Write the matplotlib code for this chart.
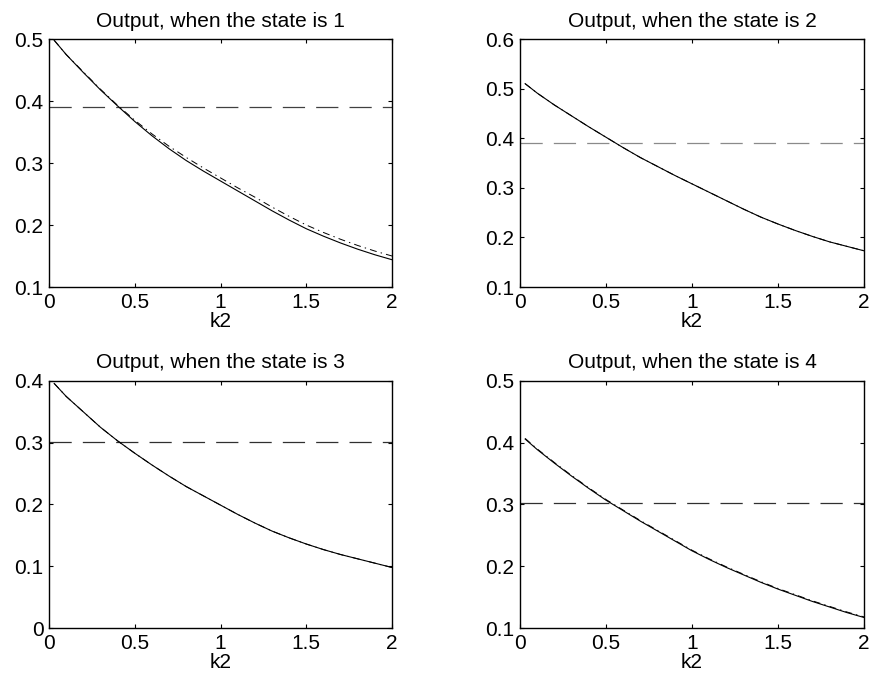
import numpy as np
import matplotlib
matplotlib.use('Agg')
import matplotlib.pyplot as plt

plt.rcParams['font.family'] = ['Liberation Sans', 'DejaVu Sans']
plt.rcParams['lines.scale_dashes'] = False

# k2 grid the curves were read at
k2 = [0.03, 0.1, 0.2, 0.3, 0.4, 0.5, 0.6, 0.7, 0.8, 0.9, 1.0,
      1.1, 1.2, 1.3, 1.4, 1.5, 1.6, 1.7, 1.8, 1.9, 2.0]

# state 1
out1 = [0.498, 0.475, 0.446, 0.418, 0.392, 0.367, 0.344, 0.323, 0.304, 0.287, 0.271,
        0.255, 0.239, 0.223, 0.208, 0.194, 0.182, 0.171, 0.161, 0.152, 0.144]
approx1 = [0.498, 0.475, 0.447, 0.419, 0.393, 0.369, 0.347, 0.327, 0.309, 0.292, 0.276,
           0.260, 0.245, 0.229, 0.214, 0.200, 0.188, 0.177, 0.167, 0.158, 0.150]
# state 2
out2 = [0.510, 0.491, 0.467, 0.445, 0.423, 0.402, 0.381, 0.361, 0.343, 0.325, 0.308,
        0.291, 0.274, 0.257, 0.241, 0.227, 0.214, 0.202, 0.191, 0.182, 0.173]
approx2 = out2
# state 3
out3 = [0.396, 0.375, 0.350, 0.325, 0.303, 0.283, 0.264, 0.246, 0.229, 0.214, 0.199,
        0.184, 0.170, 0.157, 0.146, 0.136, 0.127, 0.119, 0.112, 0.105, 0.098]
approx3 = out3
# state 4
out4 = [0.406, 0.389, 0.367, 0.346, 0.326, 0.307, 0.290, 0.273, 0.257, 0.241, 0.225,
        0.211, 0.198, 0.186, 0.174, 0.163, 0.153, 0.143, 0.134, 0.125, 0.117]
approx4 = [0.407, 0.390, 0.368, 0.347, 0.327, 0.308, 0.291, 0.274, 0.258, 0.242, 0.226,
           0.212, 0.199, 0.187, 0.175, 0.164, 0.154, 0.144, 0.135, 0.126, 0.118]

levels = [0.39, 0.39, 0.302, 0.302]
level_colors = ['#404040', '#8a8a8a', '#303030', '#303030']
ylims = [(0.1, 0.5), (0.1, 0.6), (0.0, 0.4), (0.1, 0.5)]
yticks = [[0.1, 0.2, 0.3, 0.4, 0.5],
          [0.1, 0.2, 0.3, 0.4, 0.5, 0.6],
          [0, 0.1, 0.2, 0.3, 0.4],
          [0.1, 0.2, 0.3, 0.4, 0.5]]
ytick_labels = [['0.1', '0.2', '0.3', '0.4', '0.5'],
                ['0.1', '0.2', '0.3', '0.4', '0.5', '0.6'],
                ['0', '0.1', '0.2', '0.3', '0.4'],
                ['0.1', '0.2', '0.3', '0.4', '0.5']]
xticks = [0, 0.5, 1, 1.5, 2]
xtick_labels = ['0', '0.5', '1', '1.5', '2']
titles = ['Output, when the state is 1', 'Output, when the state is 2',
          'Output, when the state is 3', 'Output, when the state is 4']

outs = [out1, out2, out3, out4]
approxs = [approx1, approx2, approx3, approx4]

fig = plt.figure(figsize=(8.71, 6.79), dpi=100)
positions = [[0.0563, 0.5773, 0.3938, 0.3652],
             [0.5970, 0.5773, 0.3950, 0.3652],
             [0.0563, 0.0751, 0.3938, 0.3638],
             [0.5970, 0.0751, 0.3950, 0.3638]]

for i in range(4):
    ax = fig.add_axes(positions[i])
    ax.axhline(levels[i], color=level_colors[i], lw=0.9, dashes=(16, 8))
    ax.plot(k2, approxs[i], color='k', lw=0.7, dashes=(5, 3, 1, 3))
    ax.plot(k2, outs[i], color='k', lw=0.8)
    ax.set_xlim(0, 2)
    ax.set_ylim(*ylims[i])
    ax.set_xticks(xticks)
    ax.set_xticklabels(xtick_labels)
    ax.set_yticks(yticks[i])
    ax.set_yticklabels(ytick_labels[i])
    ax.tick_params(direction='in', top=True, right=True, length=3, width=0.8,
                   labelsize=15, pad=4)
    for s in ax.spines.values():
        s.set_linewidth(1.0)
    ax.set_title(titles[i], fontsize=15, pad=9)
    ax.set_xlabel('k2', fontsize=15, labelpad=0)

fig.savefig('out.png', dpi=100)
